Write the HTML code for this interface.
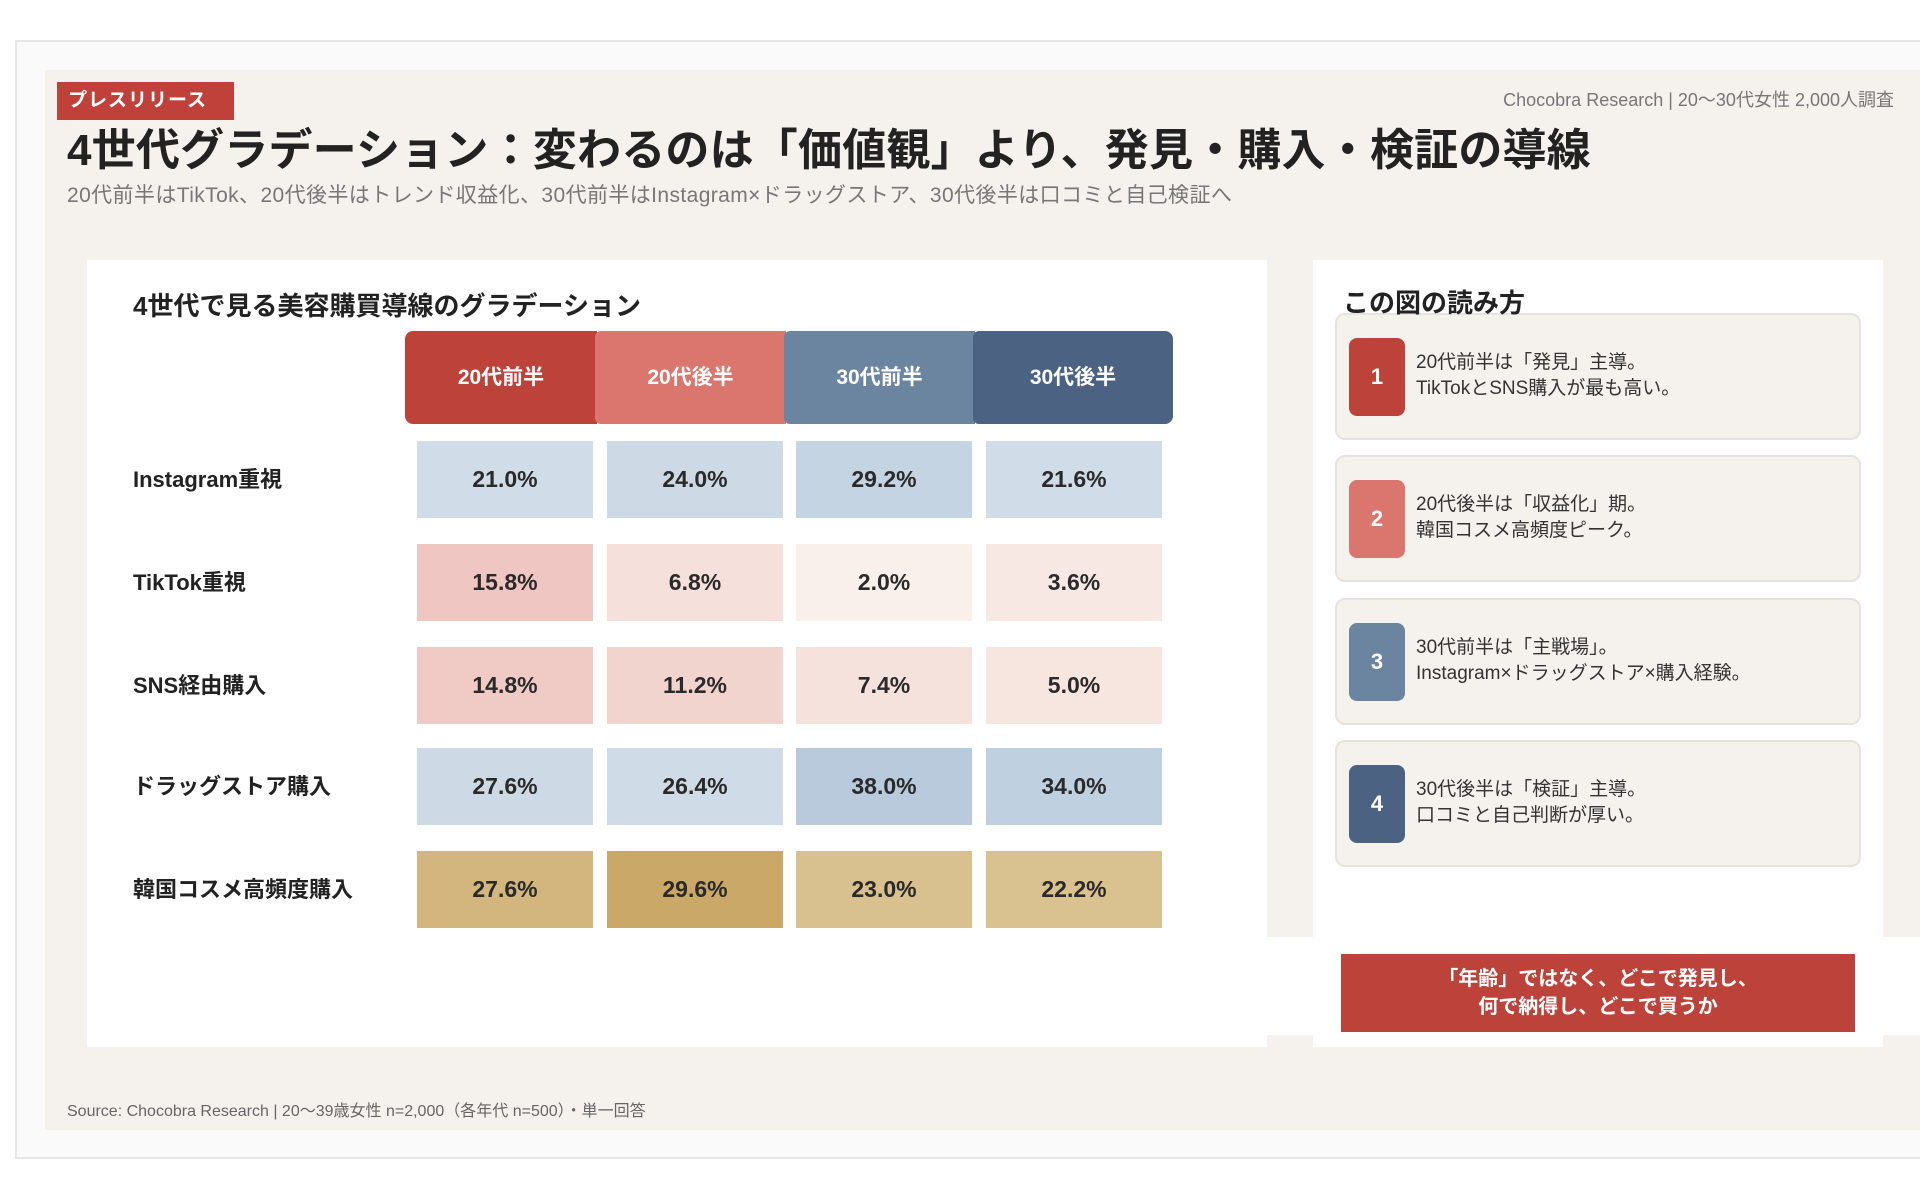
<!DOCTYPE html>
<html><head><meta charset="utf-8"><style>
*{margin:0;padding:0;box-sizing:border-box}
body{width:1920px;height:1187px;background:#fff;position:relative;overflow:hidden;font-family:"Liberation Sans","Noto Sans CJK JP",sans-serif;color:#2a2a2a}
.a{position:absolute}
.frame{left:15px;top:40px;width:1920px;height:1119px;border:2px solid #e8e6e4;border-right:none;background:#fafafa}
.beige{left:45px;top:70px;width:1875px;height:1060px;background:#f5f1ec}
.badge{left:57px;top:82px;width:177px;height:38px;background:#c0413a;color:#fff;font-weight:bold;font-size:19px;line-height:38px;padding-left:11px;letter-spacing:1px}
.title{left:67px;top:114px;font-size:44px;font-weight:bold;color:#222;white-space:nowrap;letter-spacing:0.2px}
.sub{left:67px;top:179px;font-size:21px;color:#777;white-space:nowrap;letter-spacing:0.4px}
.hdr{right:26px;top:86px;font-size:18px;color:#777;white-space:nowrap}
.card{background:#fff}
.h2{font-size:26px;font-weight:bold;color:#222;white-space:nowrap}
.th{top:331px;height:93px;color:#fff;font-weight:bold;font-size:21px;text-align:center;line-height:93px}
.cell{width:176px;height:77px;text-align:center;line-height:77px;font-size:23px;font-weight:bold;color:#2a2a2a}
.rl{left:133px;font-size:22px;font-weight:bold;color:#222;line-height:77px;white-space:nowrap}
.note{left:1335px;width:526px;height:127px;background:#f5f1ec;border:2px solid #e8e2dc;border-radius:10px}
.num{left:12px;top:23px;width:56px;height:78px;border-radius:8px;color:#fff;font-weight:bold;font-size:22px;text-align:center;line-height:78px}
.nt{left:79px;top:35px;font-size:19px;line-height:26px;color:#333;white-space:nowrap}
</style></head><body>
<div class="a frame"></div>
<div class="a beige"></div>
<div class="a badge">プレスリリース</div>
<div class="a hdr">Chocobra Research | 20〜30代女性 2,000人調査</div>
<div class="a title">4世代グラデーション：変わるのは「価値観」より、発見・購入・検証の導線</div>
<div class="a sub">20代前半はTikTok、20代後半はトレンド収益化、30代前半はInstagram×ドラッグストア、30代後半は口コミと自己検証へ</div>

<div class="a" style="left:1267px;top:937px;width:653px;height:98px;background:#fff"></div>
<div class="a card" style="left:87px;top:260px;width:1180px;height:787px"></div>
<div class="a card" style="left:1313px;top:260px;width:570px;height:787px"></div>

<div class="a h2" style="left:133px;top:286px">4世代で見る美容購買導線のグラデーション</div>

<div class="a th" style="left:405px;width:192px;background:#bd423a;border-radius:8px 0 0 8px">20代前半</div>
<div class="a th" style="left:595px;width:191px;background:#da766d;border-radius:6px 0 0 6px">20代後半</div>
<div class="a th" style="left:784px;width:191px;background:#6b84a0;border-radius:6px 0 0 6px">30代前半</div>
<div class="a th" style="left:973px;width:200px;background:#4c6283;border-radius:6px 8px 8px 6px">30代後半</div>

<div class="a rl" style="top:441px">Instagram重視</div>
<div class="a rl" style="top:544px">TikTok重視</div>
<div class="a rl" style="top:647px">SNS経由購入</div>
<div class="a rl" style="top:748px">ドラッグストア購入</div>
<div class="a rl" style="top:851px">韓国コスメ高頻度購入</div>

<div class="a cell" style="left:417px;top:441px;background:#d0dce7">21.0%</div>
<div class="a cell" style="left:607px;top:441px;background:#cddae6">24.0%</div>
<div class="a cell" style="left:796px;top:441px;background:#c4d4e2">29.2%</div>
<div class="a cell" style="left:986px;top:441px;background:#d0dce7">21.6%</div>

<div class="a cell" style="left:417px;top:544px;background:#efc6c1">15.8%</div>
<div class="a cell" style="left:607px;top:544px;background:#f5e0db">6.8%</div>
<div class="a cell" style="left:796px;top:544px;background:#f9efeb">2.0%</div>
<div class="a cell" style="left:986px;top:544px;background:#f8e8e4">3.6%</div>

<div class="a cell" style="left:417px;top:647px;background:#f0cbc6">14.8%</div>
<div class="a cell" style="left:607px;top:647px;background:#f2d4cf">11.2%</div>
<div class="a cell" style="left:796px;top:647px;background:#f6e2dd">7.4%</div>
<div class="a cell" style="left:986px;top:647px;background:#f7e5e0">5.0%</div>

<div class="a cell" style="left:417px;top:748px;background:#cddae6">27.6%</div>
<div class="a cell" style="left:607px;top:748px;background:#cfdbe6">26.4%</div>
<div class="a cell" style="left:796px;top:748px;background:#b8cadc">38.0%</div>
<div class="a cell" style="left:986px;top:748px;background:#bfd0e0">34.0%</div>

<div class="a cell" style="left:417px;top:851px;background:#d3b67e">27.6%</div>
<div class="a cell" style="left:607px;top:851px;background:#caa868">29.6%</div>
<div class="a cell" style="left:796px;top:851px;background:#d9c08f">23.0%</div>
<div class="a cell" style="left:986px;top:851px;background:#d9c190">22.2%</div>

<div class="a note" style="top:313px"><div class="a num" style="background:#bd423a">1</div><div class="a nt">20代前半は「発見」主導。<br>TikTokとSNS購入が最も高い。</div></div>
<div class="a note" style="top:455px"><div class="a num" style="background:#da766d">2</div><div class="a nt">20代後半は「収益化」期。<br>韓国コスメ高頻度ピーク。</div></div>
<div class="a note" style="top:598px"><div class="a num" style="background:#6b84a0">3</div><div class="a nt">30代前半は「主戦場」。<br>Instagram×ドラッグストア×購入経験。</div></div>
<div class="a note" style="top:740px"><div class="a num" style="background:#4c6283">4</div><div class="a nt">30代後半は「検証」主導。<br>口コミと自己判断が厚い。</div></div>

<div class="a h2" style="left:1343px;top:283px;z-index:2">この図の読み方</div>

<div class="a" style="left:1341px;top:954px;width:514px;height:78px;background:#bd423a;color:#fff;font-weight:bold;font-size:20px;line-height:28px;text-align:center;padding-top:11px">「年齢」ではなく、どこで発見し、<br>何で納得し、どこで買うか</div>

<div class="a" style="left:67px;top:1097px;font-size:16px;color:#666;white-space:nowrap">Source: Chocobra Research | 20〜39歳女性 n=2,000（各年代 n=500）・単一回答</div>
</body></html>
